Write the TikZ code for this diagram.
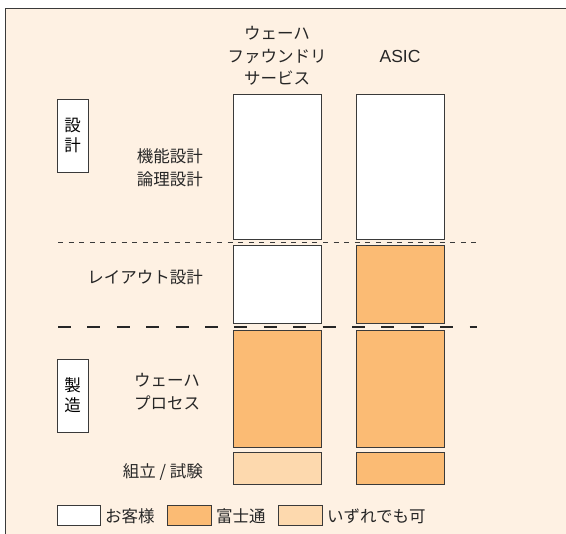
\documentclass[tikz,border=0pt]{standalone}
\usepackage{fontspec}
\setmainfont{Noto Sans CJK JP}
\definecolor{bgc}{HTML}{FEF1E3}
\definecolor{orng}{HTML}{FBBB74}
\definecolor{lorng}{HTML}{FDD9AE}
\definecolor{edge}{HTML}{3A3A3A}
\tikzset{
  cell/.style={draw=edge, line width=0.9pt, inner sep=0pt},
  lbl/.style={font=\fontsize{16.5}{23}\selectfont, text=black!85, inner sep=0pt, align=right},
  hdr/.style={font=\fontsize{16.5}{22.5}\selectfont, text=black!85, inner sep=0pt, align=center},
}
\begin{document}
\begin{tikzpicture}[x=1pt,y=-1pt]
\useasboundingbox (0,0) rectangle (566,534);
\begin{scope}
\clip (0,0) rectangle (566,534);
\fill[white] (0,0) rectangle (566,534);
\draw[edge, line width=1pt, fill=bgc] (5,9) rectangle (580,560);
\end{scope}
% headers
\node[hdr] (h1) at (277,56) {ウェーハ\\ファウンドリ\\サービス};
\node[hdr, font=\fontsize{17.5}{20}\selectfont\fontspec{Liberation Sans}] (h2) at (400,56) {ASIC};
% column 1 cells
\draw[cell, fill=white] (233,94) rectangle (321,239);
\draw[cell, fill=white] (233,245) rectangle (321,323);
\draw[cell, fill=orng] (233,330) rectangle (321,447);
\draw[cell, fill=lorng] (233,452) rectangle (321,484);
% column 2 cells
\draw[cell, fill=white] (356,94) rectangle (444,239);
\draw[cell, fill=orng] (356,245) rectangle (444,323);
\draw[cell, fill=orng] (356,330) rectangle (444,447);
\draw[cell, fill=orng] (356,452) rectangle (444,484);
% dashed separators
\coordinate (d1a) at (58,242); \coordinate (d1b) at (477,242);
\draw[edge, line width=0.9pt, dash pattern=on 5pt off 5.6pt] (d1a) -- (d1b);
\coordinate (d2a) at (58,327); \coordinate (d2b) at (477,327);
\draw[black!85, line width=2.4pt, dash pattern=on 13pt off 16.4pt] (d2a) -- (d2b);
% left phase boxes
\node[cell, fill=white, minimum width=31pt, minimum height=73pt, font=\fontsize{16.5}{20}\selectfont, align=center] (p1) at (72.5,135.5) {設\\計};
\node[cell, fill=white, minimum width=31pt, minimum height=73pt, font=\fontsize{16.5}{20}\selectfont, align=center] (p2) at (72.5,395.5) {製\\造};
% row labels
\node[lbl, anchor=east] (r1) at (203,168) {機能設計\\論理設計};
\node[lbl, anchor=east] (r2) at (203,277) {レイアウト設計};
\node[lbl, anchor=west, align=left] (r3) at (134,392) {ウェーハ\\プロセス};
\node[lbl, anchor=east] (r4) at (203,472) {組立 / 試験};
% legend
\draw[cell, fill=white] (57,505) rectangle (100,525);
\node[lbl, anchor=west] (l1) at (105,516) {お客様};
\draw[cell, fill=orng] (167,505) rectangle (211,525);
\node[lbl, anchor=west] (l2) at (216,516) {富士通};
\draw[cell, fill=lorng] (278,505) rectangle (322,525);
\node[lbl, anchor=west] (l3) at (327,516) {いずれでも可};
\end{tikzpicture}
\end{document}
